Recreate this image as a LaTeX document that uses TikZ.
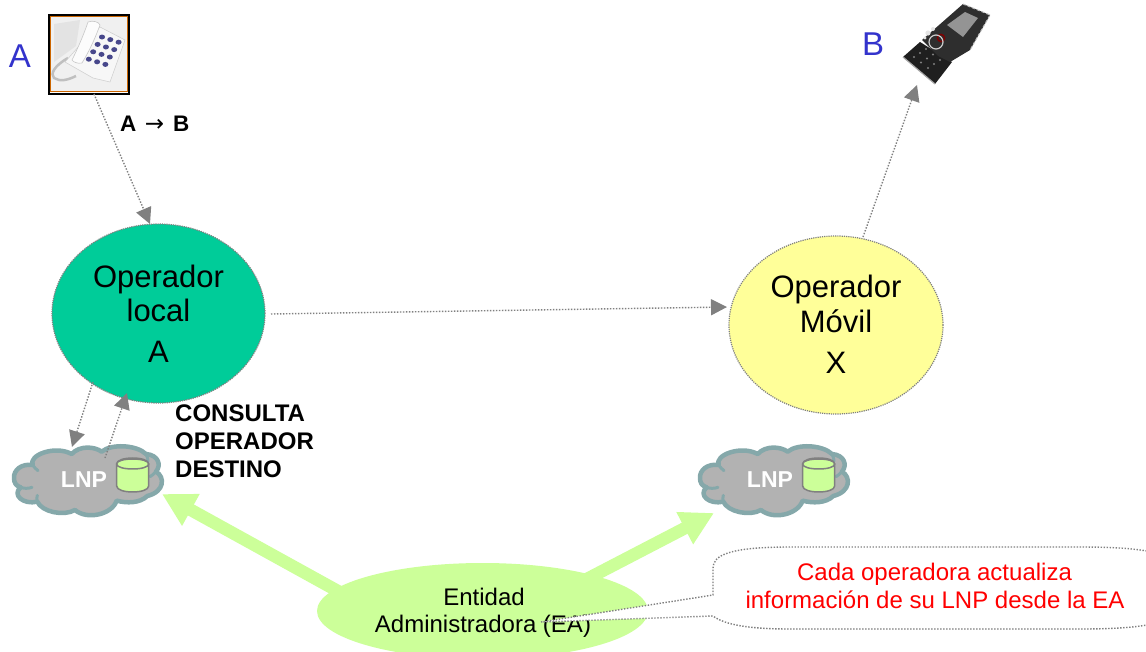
\documentclass[tikz,border=0pt]{standalone}
\usepackage{fontspec}
\setmainfont{Liberation Sans}
\newfontfamily\djv{DejaVu Sans}
\usetikzlibrary{arrows.meta,shapes.geometric}
\definecolor{teal1}{HTML}{00CC99}
\definecolor{yel1}{HTML}{FFFF99}
\definecolor{lime1}{HTML}{CCFF99}
\definecolor{blue1}{HTML}{3333CC}
\definecolor{cloudedge}{HTML}{85A8AA}
\definecolor{cloudfill}{HTML}{B2B2B2}
\definecolor{gr}{HTML}{808080}
\newcommand{\fs}[1]{\fontsize{#1}{#1}\selectfont}
\tikzset{
  flow/.style={draw=gr,line width=1.4pt,dash pattern=on 1.4pt off 1.6pt,
    -{Triangle[length=16pt,width=16pt,fill=gr,color=gr,sep=0pt]}},
  oval/.style={ellipse,draw=gr,line width=1.2pt,dash pattern=on 1.2pt off 1pt,inner sep=0pt},
  bigarrow/.style={draw=lime1,line width=12.5pt,-{Triangle[length=33pt,width=34pt,fill=lime1,color=lime1]}},
  label/.style={anchor=base,inner sep=0pt},
  big/.style={label,font=\fs{31}},
  mid/.style={label,font=\fs{24}},
  boldt/.style={anchor=base west,inner sep=0pt,font=\fs{24}\bfseries},
  lnpt/.style={anchor=base,inner sep=0pt,font=\fs{23}\bfseries,text=white},
}
\newcommand{\lnpcloud}[3]{%
 \begin{scope}[shift={(#1,380)},x=.3333pt,y=-.3333pt]
  \draw[cloudedge,fill=cloudfill,line width=4.5pt,line join=round] (42,295)
   .. controls (40,270) and (65,250) .. (98,255)
   .. controls (85,225) and (165,195) .. (215,222)
   .. controls (240,195) and (285,200) .. (305,215)
   .. controls (335,190) and (410,195) .. (438,222)
   .. controls (475,225) and (485,255) .. (468,275)
   .. controls (495,290) and (495,335) .. (442,348)
   .. controls (420,370) and (380,370) .. (350,362)
   .. controls (335,405) and (260,420) .. (225,390)
   .. controls (190,410) and (125,395) .. (112,365)
   .. controls (70,375) and (35,345) .. (62,322)
   .. controls (48,318) and (42,308) .. (42,295) -- cycle;
  \draw[cloudedge,line width=3pt,line cap=round] (62,322) .. controls (72,326) and (85,326) .. (96,322);
  \draw[cloudedge,line width=3pt,line cap=round] (98,255) .. controls (103,262) and (108,268) .. (114,272);
  \draw[cloudedge,line width=3pt,line cap=round] (112,365) .. controls (110,358) and (110,352) .. (112,346);
  \draw[cloudedge,line width=3pt,line cap=round] (438,222) .. controls (442,230) and (444,236) .. (444,244);
  \draw[cloudedge,line width=3pt,line cap=round] (468,275) .. controls (462,282) and (456,286) .. (450,290);
  \node[lnpt] (#2) at (252,322) {LNP};
  \draw[gr,fill=lime1,line width=1.5pt] (350,252) -- (350,318)
    .. controls (350,342) and (446,342) .. (446,318) -- (446,252)
    .. controls (446,228) and (350,228) .. (350,252) -- cycle;
  \draw[gr,fill=lime1,line width=1.5pt] (350,252) .. controls (350,272) and (446,272) .. (446,252)
    .. controls (446,232) and (350,232) .. (350,252) -- cycle;
  \coordinate (#3) at (398,285);
 \end{scope}}
\begin{document}
\begin{tikzpicture}[x=1pt,y=-1pt]
\useasboundingbox (0,0) rectangle (1146,651);
\fill[white] (0,0) rectangle (1146,651);

% desk phone
\node[draw=black,line width=1.8pt,fill=white,minimum width=80pt,minimum height=79pt,inner sep=0pt,anchor=north west] (telA) at (48,14) {};
\begin{scope}
 \draw[draw=orange!80!black,line width=1pt,fill=black!6] (50,16) rectangle (127,91);
 \fill[black!11] (54,24) -- (80,20) -- (76,46) -- (54,62) -- cycle;
 \draw[black!25,line width=2.5pt] (68,58) .. controls (54,66) and (50,74) .. (54,78) .. controls (60,82) and (68,80) .. (76,76);
 \fill[black!3,draw=black!20,line width=.5pt] (100,27) -- (125,40) -- (110,82) -- (93,78) -- (65,62) -- (80,45) -- cycle;
 \fill[black!1,draw=black!22,line width=.6pt] (88,22) .. controls (93,20) and (99,22) .. (100,25) .. controls (96,36) and (90,50) .. (82,63) .. controls (78,64) and (73,62) .. (72,60) .. controls (78,48) and (84,34) .. (88,22) -- cycle;
 \foreach \i in {0,1,2,3} \foreach \j in {0,1,2} {
   \fill[blue1!55!black,opacity=.8] ({102+8.3*\j-4.4*\i},{37+2.6*\j+7.4*\i}) ellipse (3pt and 2.5pt);
 }
\end{scope}

% mobile phone
\coordinate (telB) at (945,42);
\fill[black!88] (903,57) -- (920,42) -- (952,62) -- (935,84) -- cycle;
\fill[black!82] (922,40) -- (963,4) -- (990,15) -- (970,50) -- (950,62) -- (938,56) -- cycle;
\fill[black!42] (947,25) -- (965,12) -- (978,18) -- (963,37) -- cycle;
\draw[black!25,line width=1pt,dash pattern=on 3pt off 2pt] (963,4) -- (990,15) -- (970,50);
\draw[black!35,line width=1.2pt] (903,57) -- (935,84);
\foreach \i in {0,1,2} \foreach \j in {0,1,2}
  \fill[black!50] ({914+7*\j+6*\i},{57+5.5*\j-4*\i}) circle (1.2pt);
\fill[white!90!black] (928,33) circle (2.6pt) (933,29) circle (2pt) (925,38) circle (1.6pt);
\draw[red!50!black,line width=1.4pt] (941,38) circle (3.6pt);
\draw[black!20,line width=1.2pt] (936,42) circle (7pt);

% labels A, B
\node[label,font=\fs{33},text=blue1] (lblA) at (20,67) {A};
\node[label,font=\fs{33},text=blue1] (lblB) at (873,55) {B};
\node[anchor=base west,inner sep=0pt,font=\fs{22.5}\bfseries] (ab) at (120,131) {A\hspace{8.5pt}{\djv\mdseries\fs{23}→}\hspace{9pt}B};

% operators
\node[oval,fill=teal1,minimum width=213pt,minimum height=179pt] (opL) at (158.5,313.5) {};
\node[oval,fill=yel1,minimum width=214pt,minimum height=178pt] (opM) at (836,325) {};
\node[big] (t1) at (158.5,287) {Operador};
\node[big] (t2) at (158.5,321) {local};
\node[big] (t3) at (158.5,362.5) {A};
\node[big] (t4) at (836,297) {Operador};
\node[big] (t5) at (836,332) {Móvil};
\node[big] (t6) at (836,373) {X};

% clouds
\lnpcloud{0}{lnpA}{dbA}
\lnpcloud{686}{lnpB}{dbB}

\node[boldt] (cq1) at (175,421) {CONSULTA};
\node[boldt] (cq2) at (175,449) {OPERADOR};
\node[boldt] (cq3) at (175,477) {DESTINO};

% flows
\coordinate (f1s) at (94,94);
\coordinate (f1e) at (150,224);
\coordinate (f2s) at (271,314);
\coordinate (f2e) at (727,307);
\coordinate (f3s) at (863,237);
\coordinate (f3e) at (917,85);
\coordinate (f4s) at (93,382);
\coordinate (f4e) at (72,447);
\coordinate (f5s) at (105,458);
\coordinate (f5e) at (127,393);
\draw[flow] (f1s) -- (f1e);
\draw[flow] (f2s) -- (f2e);
\draw[flow] (f3s) -- (f3e);
\draw[flow] (f4s) -- (f4e);
\draw[flow] (f5s) -- (f5e);

% big arrows and EA
\coordinate (g1e) at (162,494);
\coordinate (g1s) at (345,595);
\coordinate (g2e) at (714,513);
\coordinate (g2s) at (585,580);
\draw[bigarrow] (g1s) -- (g1e);
\draw[bigarrow] (g2s) -- (g2e);
\node[ellipse,fill=lime1,inner sep=0pt,minimum width=331pt,minimum height=96pt] (ea) at (482.5,611) {};
\node[mid] (ea1) at (484,605.5) {Entidad};
\node[mid] (ea2) at (483,632) {Administradora (EA)};

% callout
\coordinate (tip) at (541,622);
\draw[draw=gr,line width=1.4pt,dash pattern=on 1.4pt off 1.6pt,fill=white]
  (tip) -- (713,595) -- (713,568) .. controls (713,555) and (730,547) .. (790,547)
  -- (1080,547) .. controls (1160,547) and (1190,556) .. (1190,588)
  .. controls (1190,620) and (1160,629) .. (1080,629)
  -- (790,629) .. controls (750,629) and (725,625) .. (713,616) -- cycle;
\node[mid,text=red] (c1) at (934.5,580) {Cada operadora actualiza};
\node[mid,text=red] (c2) at (935,608) {información de su LNP desde la EA};
\end{tikzpicture}
\end{document}
